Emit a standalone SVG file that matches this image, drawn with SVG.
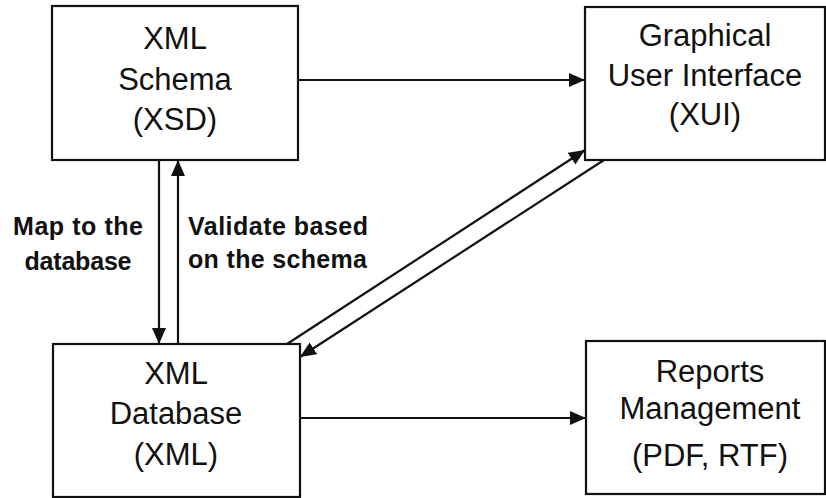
<svg xmlns="http://www.w3.org/2000/svg" width="826" height="498" viewBox="0 0 826 498">
  <style>
    .box { fill: #ffffff; stroke: #111111; stroke-width: 2.2; }
    .title { font-family: "Liberation Sans", Arial, sans-serif; font-size: 31px; fill: #111111; text-anchor: middle; }
    .label { font-family: "Liberation Sans", Arial, sans-serif; font-size: 25px; font-weight: bold; fill: #111111; }
    .edge { fill: none; stroke: #111111; stroke-width: 2.2; marker-end: url(#arrow); }
  </style>
  <defs>
    <marker id="arrow" markerUnits="userSpaceOnUse" markerWidth="18" markerHeight="14" refX="16" refY="7" orient="auto">
      <path d="M0,0 L16,7 L0,14 Z" fill="#111111"/>
    </marker>
  </defs>
  <rect width="826" height="498" fill="#ffffff"/>

  <g id="connectors">
    <line class="edge" x1="298" y1="80" x2="585" y2="80"/>
    <line class="edge" x1="300" y1="418" x2="586" y2="418"/>
    <line class="edge" x1="159" y1="160" x2="159" y2="344"/>
    <line class="edge" x1="178" y1="344" x2="178" y2="160"/>
    <line class="edge" x1="287" y1="344" x2="585" y2="150"/>
    <line class="edge" x1="604" y1="160" x2="300" y2="357"/>
  </g>

  <g id="edge-labels">
    <text class="label" x="78" y="235" text-anchor="middle" textLength="130" lengthAdjust="spacing">Map to the</text>
    <text class="label" x="78" y="270" text-anchor="middle" textLength="107" lengthAdjust="spacing">database</text>
    <text class="label" x="188" y="235" textLength="180" lengthAdjust="spacing">Validate based</text>
    <text class="label" x="188" y="268" textLength="179" lengthAdjust="spacing">on the schema</text>
  </g>

  <g id="xsd">
    <rect class="box" x="52" y="6" width="246" height="154"/>
    <text class="title" x="175" y="49">XML</text>
    <text class="title" x="175" y="90">Schema</text>
    <text class="title" x="175" y="130">(XSD)</text>
  </g>

  <g id="xui">
    <rect class="box" x="585" y="7" width="240" height="153"/>
    <text class="title" x="705" y="46">Graphical</text>
    <text class="title" x="705" y="86">User Interface</text>
    <text class="title" x="705" y="125">(XUI)</text>
  </g>

  <g id="database">
    <rect class="box" x="53" y="344" width="247" height="153"/>
    <text class="title" x="176" y="384">XML</text>
    <text class="title" x="176" y="424">Database</text>
    <text class="title" x="176" y="465">(XML)</text>
  </g>

  <g id="reports">
    <rect class="box" x="586" y="341" width="239" height="153"/>
    <text class="title" x="710" y="382">Reports</text>
    <text class="title" x="710" y="419">Management</text>
    <text class="title" x="710" y="466">(PDF, RTF)</text>
  </g>
</svg>
